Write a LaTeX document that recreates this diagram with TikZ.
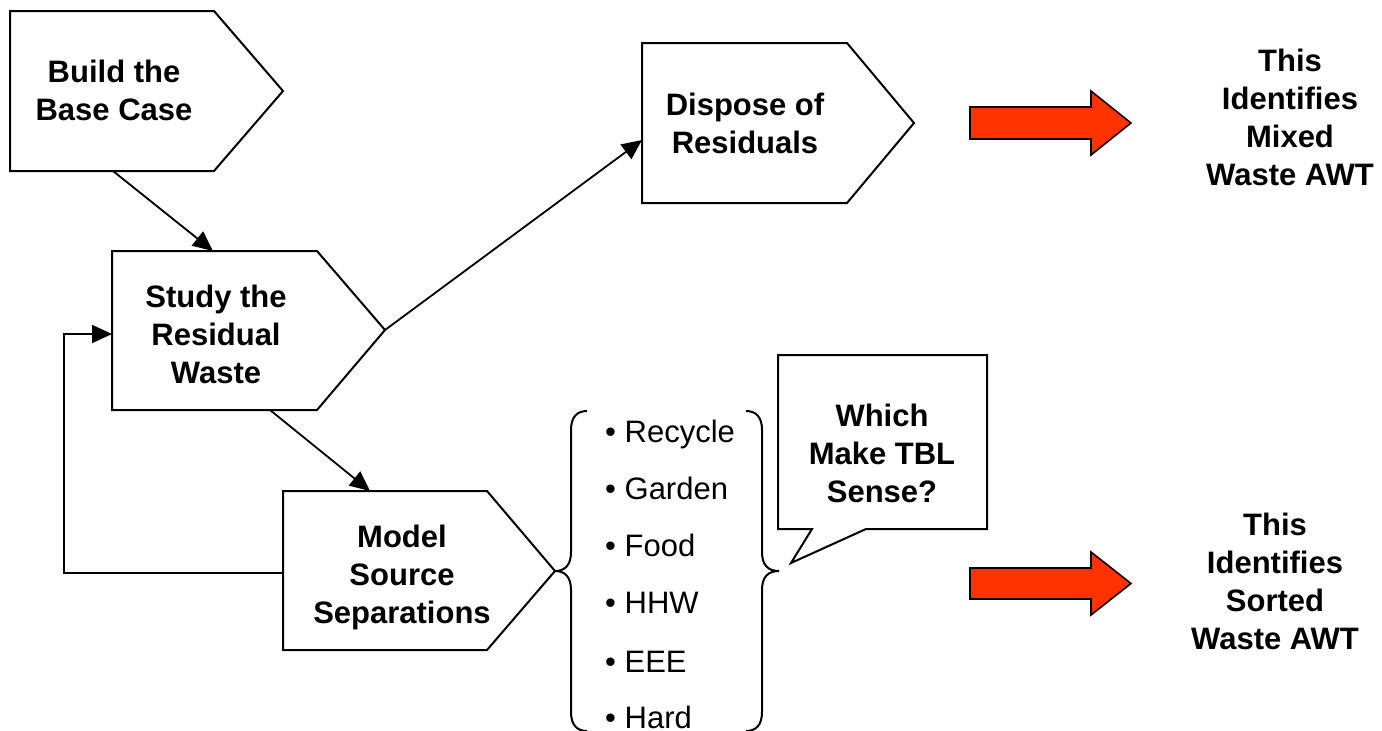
\documentclass[tikz,border=0pt]{standalone}
\usepackage{fontspec}
\setmainfont{Liberation Sans}
\usetikzlibrary{arrows.meta}
\definecolor{arrowred}{HTML}{FF3300}
\tikzset{
  shapeline/.style={draw=black, line width=2pt, line join=miter},
  conn/.style={draw=black, line width=1.8pt, -{Triangle[length=20pt,width=18pt]}},
  bracestyle/.style={draw=black, line width=2pt},
  boldtxt/.style={align=center, inner sep=0pt, font=\fontsize{31}{38}\selectfont\bfseries},
  itemtxt/.style={anchor=base west, inner sep=0pt, font=\fontsize{31}{38}\selectfont},
  bigarrow/.style={fill=arrowred, draw=black, line width=1.6pt, line join=miter},
}
\begin{document}
\begin{tikzpicture}[x=1pt,y=-1pt]
\useasboundingbox (0,0) rectangle (1382,731);
\fill[white] (0,0) rectangle (1382,731);

% Build the Base Case
\draw[shapeline] (10,11) -- (214,11) -- (283,91) -- (214,171) -- (10,171) -- cycle;
\coordinate (buildout) at (113,171);
\node[boldtxt] (build) at (114,90.4) {Build the\\Base Case};

% Study the Residual Waste
\draw[shapeline] (112,251) -- (317,251) -- (385,330) -- (317,410) -- (112,410) -- cycle;
\coordinate (studyin) at (213,251);
\coordinate (studytip) at (385,330);
\coordinate (studyleft) at (112,334);
\coordinate (studyout) at (270,410);
\node[boldtxt] (study) at (216,334.9) {Study the\\Residual\\Waste};

% Model Source Separations
\draw[shapeline] (283,491) -- (487,491) -- (555,571) -- (487,650) -- (283,650) -- cycle;
\coordinate (modelin) at (370,491);
\coordinate (modelleft) at (283,573);
\node[boldtxt] (model) at (402,577) {Model\\Source\\Separations};

% Dispose of Residuals
\draw[shapeline] (642,43) -- (847,43) -- (914,123) -- (847,203) -- (642,203) -- cycle;
\coordinate (disposein) at (642,140);
\node[boldtxt] (dispose) at (745,123.2) {Dispose of\\Residuals};

% connectors
\draw[conn] (buildout) -- (studyin);
\draw[conn] (studyout) -- (modelin);
\draw[conn] (studytip) -- (disposein);
\draw[conn] (modelleft) -- (64,573) -- (64,334) -- (studyleft);

% braces
\draw[bracestyle] (587,411) .. controls (577,411) and (571,417) .. (571,430) -- (571,552)
  .. controls (571,565) and (565,571) .. (555,571)
  .. controls (565,571) and (571,577) .. (571,590) -- (571,712)
  .. controls (571,725) and (577,731) .. (587,731);
\draw[bracestyle] (746,411) .. controls (756,411) and (762,417) .. (762,430) -- (762,552)
  .. controls (762,565) and (768,571) .. (779,571)
  .. controls (768,571) and (762,577) .. (762,590) -- (762,712)
  .. controls (762,725) and (756,731) .. (746,731);

% list items
\node[itemtxt] (i1) at (605,442) {\textbullet\ Recycle};
\node[itemtxt] (i2) at (605,499) {\textbullet\ Garden};
\node[itemtxt] (i3) at (605,556) {\textbullet\ Food};
\node[itemtxt] (i4) at (605,613) {\textbullet\ HHW};
\node[itemtxt] (i5) at (605,672) {\textbullet\ EEE};
\node[itemtxt] (i6) at (605,728) {\textbullet\ Hard};

% callout
\draw[shapeline] (778,355) -- (987,355) -- (987,529) -- (866,529) -- (791,563) -- (812,529) -- (778,529) -- cycle;
\node[boldtxt] (callout) at (882,453.4) {Which\\Make TBL\\Sense?};

% red arrows
\draw[bigarrow] (970,107) -- (1091,107) -- (1091,91) -- (1131,123) -- (1091,155) -- (1091,139) -- (970,139) -- cycle;
\draw[bigarrow] (970,568) -- (1091,568) -- (1091,552) -- (1131,583.5) -- (1091,615) -- (1091,599) -- (970,599) -- cycle;

\node[boldtxt] (mixed) at (1290,117.9) {This\\Identifies\\Mixed\\Waste AWT};
\node[boldtxt] (sorted) at (1275,581.4) {This\\Identifies\\Sorted\\Waste AWT};
\end{tikzpicture}
\end{document}
